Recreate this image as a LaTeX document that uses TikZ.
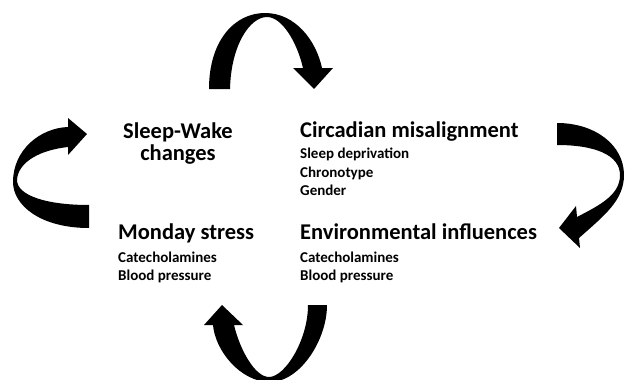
\documentclass[tikz,border=0pt]{standalone}
\usepackage{fontspec}
\setmainfont{Carlito}
\begin{document}
\begin{tikzpicture}[x=1pt,y=-1pt,
  big/.style={font=\bfseries\fontsize{22.5}{24}\selectfont,inner sep=0pt,anchor=base west},
  small/.style={font=\bfseries\fontsize{15}{17}\selectfont,inner sep=0pt,anchor=base west},
  cyc/.style={fill=black,draw=none}]
\useasboundingbox[fill=white] (0,0) rectangle (625,380);
% top arrow
\fill[cyc] (209,89) .. controls (209,40) and (235,13) .. (265,13)
  .. controls (295,13) and (316,40) .. (322,68)
  -- (333,68) -- (314,89) -- (293,68) -- (303,68)
  .. controls (297,42) and (282,17) .. (267,17)
  .. controls (250,17) and (231,45) .. (230,89) -- cycle;
% left arrow
\fill[cyc] (68,127) -- (68,118) -- (87,134) -- (68,155) -- (68,147)
  .. controls (40,150) and (18,162) .. (17,180)
  .. controls (17,195) and (45,205) .. (89,205)
  -- (89,228)
  .. controls (40,228) and (13,205) .. (13,182)
  .. controls (13,150) and (40,128) .. (68,127) -- cycle;
% right arrow
\fill[cyc] (557,123) .. controls (595,123) and (624,145) .. (624,175)
  .. controls (624,200) and (605,215) .. (579,238)
  -- (580,248) -- (559,228) -- (576,206) -- (577,217)
  .. controls (600,205) and (620,195) .. (620,175)
  .. controls (620,155) and (595,145) .. (557,145) -- cycle;
% bottom arrow
\fill[cyc] (327,305) .. controls (327,340) and (300,382) .. (270,382)
  .. controls (240,382) and (215,350) .. (213,325)
  -- (204,325) -- (222,305) -- (243,325) -- (234,325)
  .. controls (240,350) and (255,377) .. (269,377)
  .. controls (285,377) and (308,340) .. (308,305) -- cycle;
% text
\node[big,anchor=base] (sw1) at (178,138) {Sleep-Wake};
\node[big,anchor=base] (sw2) at (178,160) {changes};
\node[big] (cm) at (300,137) {Circadian misalignment};
\node[small] (cm1) at (300,158.5) {Sleep deprivation};
\node[small] (cm2) at (300,177) {Chronotype};
\node[small] (cm3) at (300,195.5) {Gender};
\node[big] (ms) at (118,239.5) {Monday stress};
\node[small] (ms1) at (118,262) {Catecholamines};
\node[small] (ms2) at (118,280) {Blood pressure};
\node[big] (ei) at (300,239.5) {Environmental influences};
\node[small] (ei1) at (300,262) {Catecholamines};
\node[small] (ei2) at (300,280) {Blood pressure};
\end{tikzpicture}
\end{document}
